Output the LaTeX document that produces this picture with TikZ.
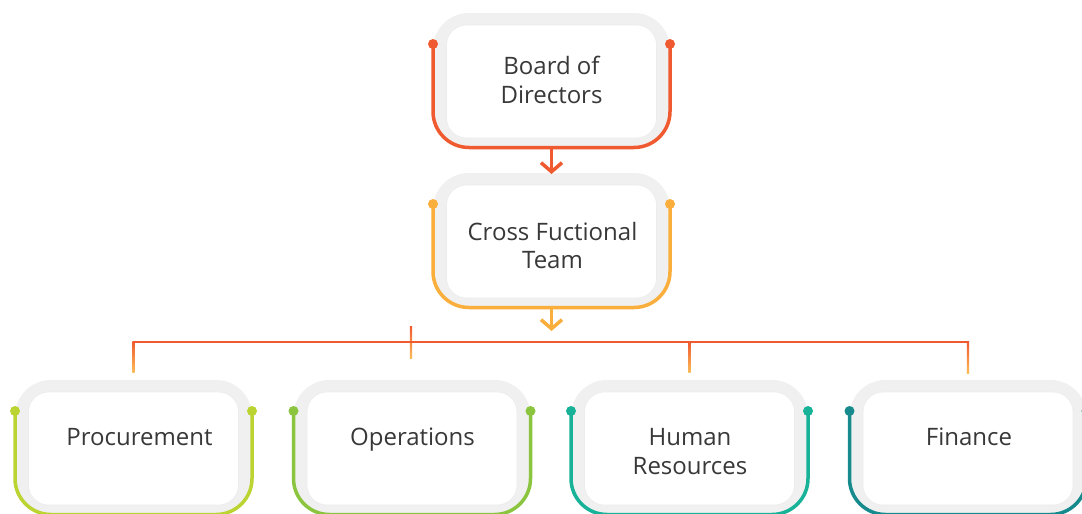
\documentclass[tikz,border=0pt]{standalone}
\usepackage{fontspec}
\setmainfont{Open Sans}
\usetikzlibrary{arrows.meta}
\definecolor{cBoard}{HTML}{F05A30}
\definecolor{cCross}{HTML}{FAAE3B}
\definecolor{cProc}{HTML}{BBD432}
\definecolor{cOps}{HTML}{8BC53F}
\definecolor{cHR}{HTML}{17B297}
\definecolor{cFin}{HTML}{168A8C}
\definecolor{ringgray}{HTML}{F0F0F0}
\definecolor{txt}{HTML}{383838}
\tikzset{
  ring/.style={fill=ringgray, rounded corners=36pt},
  innerbox/.style={draw=ringgray!70!gray!40, line width=0.6pt, fill=white, rounded corners=20pt, minimum width=210pt, minimum height=113pt, inner sep=0pt},
  ringline/.style={line width=3.5pt, rounded corners=36pt},
  lbl/.style={anchor=base, inner sep=0pt, text=txt, font=\fontsize{24}{29}\selectfont},
  flow/.style={line width=3.5pt, -{Straight Barb[length=9pt,width=21pt]}},
  bus/.style={draw=cBoard, line width=2pt},
}
\newcommand\orgbox[4]{%
  \fill[ring] (#2-118.5,#3) rectangle (#2+118.5,#3+135);
  \node[innerbox] (#1) at (#2,#3+68.5) {};
  \draw[ringline, #4] (#2-118.5,#3+31) -- (#2-118.5,#3+134.5) -- (#2+118.5,#3+134.5) -- (#2+118.5,#3+31);
  \fill[#4] (#2-118.5,#3+31) circle (5) (#2+118.5,#3+31) circle (5);
  \coordinate (#1-top) at (#2,#3);
  \coordinate (#1-bot) at (#2,#3+135);
}
\newcommand\gradtick[3]{%
  \shade[top color=cBoard, bottom color=cCross!85!white] (#1-1.1,#2) rectangle (#1+1.1,#3);
}
\begin{document}
\begin{tikzpicture}[x=1pt,y=-1pt]
\clip (0,0) rectangle (1082,514);
\fill[white] (0,0) rectangle (1082,514);

\orgbox{board}{551.5}{13}{cBoard}
\orgbox{cross}{551.5}{173}{cCross}
\orgbox{proc}{133.5}{380}{cProc}
\orgbox{ops}{412}{380}{cOps}
\orgbox{hr}{689.5}{380}{cHR}
\orgbox{fin}{968}{380}{cFin}

\node[lbl] (t1a) at (551.5,74) {Board of};
\node[lbl] (t1b) at (551.5,103) {Directors};
\node[lbl] (t2a) at (552.5,240) {Cross Fuctional};
\node[lbl] (t2b) at (552.5,268) {Team};
\node[lbl] (t3) at (139.5,445) {Procurement};
\node[lbl] (t4) at (412.5,445) {Operations};
\node[lbl] (t5a) at (690,445) {Human};
\node[lbl] (t5b) at (690,474) {Resources};
\node[lbl] (t6) at (969,445) {Finance};

\coordinate (busend) at (551.5,331);
\draw[flow, cBoard] (board-bot) -- ([yshift=-1pt]cross-top);
\draw[flow, cCross] (cross-bot) -- (busend);

% bus
\coordinate (busL) at (133.5,342);
\coordinate (busR) at (968,342);
\gradtick{133.5}{341}{372}
\gradtick{968}{341}{373}
\gradtick{689.5}{342}{372}
\gradtick{411}{326}{358}
\draw[bus] ([xshift=-1pt]busL) -- ([xshift=1pt]busR);
\end{tikzpicture}
\end{document}
